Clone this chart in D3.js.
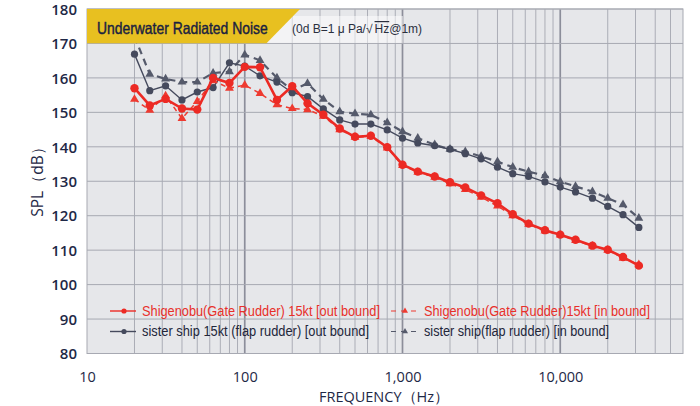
<!DOCTYPE html>
<html lang="en">
<head>
<meta charset="UTF-8">
<title>Underwater Radiated Noise</title>
<script src="https://cdn.jsdelivr.net/npm/d3@7/dist/d3.min.js"></script>
<style>
    * { margin: 0; padding: 0; }
    body { background: #fff; }
    svg { display: block; font-family: "Liberation Sans", Arial, sans-serif; }
    .tick text { font-family: "Open Sans", sans-serif; fill: #1e2846; }
    .narrow { font-family: "Liberation Sans Narrow", "Liberation Sans", Arial, sans-serif; }
</style>
</head>
<body>
<svg id="chart" width="700" height="406"></svg>
<script>
// 1/3 octave band centre frequencies (Hz)
var freqs = [20, 25, 31.5, 40, 50, 63, 80, 100, 125, 160, 200, 250, 315, 400, 500, 630, 800,
    1000, 1250, 1600, 2000, 2500, 3150, 4000, 5000, 6300, 8000, 10000, 12500, 16000, 20000, 25000, 31500];

// SPL (dB)
var gateOut = [157.0, 152.0, 153.9, 151.1, 150.8, 160.0, 158.5, 163.2, 163.1, 153.6, 157.6, 152.6, 149.3, 145.3, 142.9, 143.2, 139.9,
    134.8, 132.8, 131.4, 129.7, 128.2, 125.9, 123.6, 120.4, 117.7, 115.8, 114.5, 113.0, 111.3, 110.1, 108.0, 105.5];
var gateIn = [153.8, 150.6, 154.8, 148.2, 153.2, 159.2, 157.0, 157.9, 155.5, 152.2, 151.1, 150.8, 148.9, 145.0, 142.8, 143.0, 139.7,
    134.6, 132.6, 131.2, 129.3, 127.6, 125.4, 122.8, 120.0, 117.5, 115.6, 114.4, 112.8, 111.2, 110.0, 107.7, 105.8];
var sisterOut = [166.9, 156.3, 157.7, 153.6, 155.9, 157.2, 164.4, 163.4, 160.6, 158.8, 155.7, 154.6, 151.0, 147.8, 146.6, 146.6, 144.9,
    142.5, 141.1, 140.3, 139.3, 138.0, 136.5, 134.1, 132.2, 131.4, 129.8, 128.3, 126.9, 125.1, 122.7, 120.3, 116.6];
var sisterIn = [172.0, 161.1, 159.7, 158.8, 158.8, 161.4, 161.8, 166.7, 165.1, 160.0, 156.4, 158.4, 153.8, 150.2, 149.6, 149.3, 147.0,
    144.4, 142.5, 140.6, 139.3, 138.6, 137.2, 135.7, 134.1, 132.8, 131.6, 129.9, 128.5, 127.0, 125.1, 123.2, 119.3];

var xTicks = [10, 100, 1000, 10000];
var yTicks = [80, 90, 100, 110, 120, 130, 140, 150, 160, 170, 180];

var series = [
    { name: "Shigenobu(Gate Rudder) 15kt [out bound]", values: gateOut, color: "#ec2a24", width: 2.6, dash: null, marker: "circle", r: 4.2 },
    { name: "Shigenobu(Gate Rudder)15kt [in bound]", values: gateIn, color: "#ee3a30", width: 1.5, dash: "5,4", marker: "triangle", r: 3.6 },
    { name: "sister ship 15kt (flap rudder) [out bound]", values: sisterOut, color: "#454a5d", width: 1.4, dash: null, marker: "circle", r: 3.6 },
    { name: "sister ship(flap rudder) [in bound]", values: sisterIn, color: "#555a6b", width: 2.2, dash: "7,5", marker: "triangle", r: 3.6 }
];

var svg = d3.select("#chart");
// plot box (window.top is reserved, so no "top" here)
var pLeft = 87, pRight = 683, pTop = 9, pBottom = 353.5;

var x = d3.scaleLog().domain([10, 60000]).range([pLeft, pRight]);
var y = d3.scaleLinear().domain([80, 180]).range([pBottom, pTop]);

// plot background
svg.append("rect")
    .attr("x", pLeft).attr("y", pTop)
    .attr("width", pRight - pLeft).attr("height", pBottom - pTop)
    .attr("fill", "#e6e7ea");

// vertical grid: 1..9 in each decade
var gridX = [];
[10, 100, 1000, 10000].forEach(function (d) {
    for (var k = 1; k < 10; k++) {
        if (d * k > 10 && d * k < 60000) gridX.push(d * k);
    }
});
svg.append("g").selectAll("line")
    .data(gridX)
    .enter().append("line")
    .attr("x1", function (d) { return x(d); })
    .attr("x2", function (d) { return x(d); })
    .attr("y1", pTop).attr("y2", pBottom)
    .attr("stroke", function (d) { return xTicks.indexOf(d) >= 0 ? "#8c8e9a" : "#abadb6"; })
    .attr("stroke-width", function (d) { return xTicks.indexOf(d) >= 0 ? 1.7 : 1; });

svg.append("g").selectAll("line")
    .data(yTicks)
    .enter().append("line")
    .attr("x1", pLeft).attr("x2", pRight)
    .attr("y1", function (d) { return y(d); })
    .attr("y2", function (d) { return y(d); })
    .attr("stroke", "#a7a9b2").attr("stroke-width", 1);

// frame
svg.append("rect")
    .attr("x", pLeft).attr("y", pTop)
    .attr("width", pRight - pLeft).attr("height", pBottom - pTop)
    .attr("fill", "none").attr("stroke", "#a7a9b2");

// axes
var yAxis = svg.append("g")
    .attr("transform", "translate(" + (pLeft - 10) + ",0)")
    .call(d3.axisLeft(y).tickValues(yTicks).tickSize(0).tickPadding(0));
yAxis.select(".domain").remove();
yAxis.selectAll("text").attr("font-size", 15).attr("font-weight", 600).attr("dy", "0.35em");

var xAxis = svg.append("g")
    .attr("transform", "translate(0," + pBottom + ")")
    .call(d3.axisBottom(x).tickValues(xTicks).tickFormat(d3.format(",")).tickSize(0).tickPadding(18));
xAxis.select(".domain").remove();
xAxis.selectAll("text").attr("font-size", 14.5);

svg.append("text")
    .attr("x", 384).attr("y", 402)
    .attr("text-anchor", "middle")
    .attr("font-family", "'Open Sans', sans-serif")
    .attr("font-size", 14.5).attr("fill", "#1e2846")
    .text("FREQUENCY（Hz）");

svg.append("text")
    .attr("transform", "translate(43,178) rotate(-90)")
    .attr("text-anchor", "middle")
    .attr("font-family", "'Open Sans', sans-serif")
    .attr("font-size", 15.5).attr("fill", "#1e2846")
    .text("SPL（dB）");

// series lines and markers
var line = d3.line()
    .x(function (d) { return x(d[0]); })
    .y(function (d) { return y(d[1]); });

var drawOrder = [3, 2, 1, 0];
drawOrder.forEach(function (i) {
    var s = series[i];
    var pts = freqs.map(function (f, j) { return [f, s.values[j]]; });
    var g = svg.append("g");
    g.append("path")
        .datum(pts)
        .attr("d", line)
        .attr("fill", "none")
        .attr("stroke", s.color)
        .attr("stroke-width", s.width)
        .attr("stroke-dasharray", s.dash);
    if (s.marker === "circle") {
        g.selectAll("circle").data(pts).enter().append("circle")
            .attr("cx", function (d) { return x(d[0]); })
            .attr("cy", function (d) { return y(d[1]); })
            .attr("r", s.r)
            .attr("fill", s.color);
    } else {
        g.selectAll("path.m").data(pts).enter().append("path")
            .attr("class", "m")
            .attr("transform", function (d) { return "translate(" + x(d[0]) + "," + y(d[1]) + ")"; })
            .attr("d", d3.symbol().type(d3.symbolTriangle).size(34))
            .attr("fill", s.color);
    }
});

// title banner
svg.append("rect")
    .attr("x", 266).attr("y", 16)
    .attr("width", 137).attr("height", 27)
    .attr("fill", "#fff").attr("opacity", 0.5);
svg.append("path")
    .attr("d", "M" + pLeft + "," + pTop + " L300," + pTop + " L266.5,43.3 L" + pLeft + ",43.3 Z")
    .attr("fill", "#e8c020");
// condensed look: small font stretched vertically
svg.append("text")
    .attr("transform", "translate(97,33.5) scale(1,1.2)")
    .attr("font-size", 13.9).attr("fill", "#1a2240")
    .attr("stroke", "#1a2240").attr("stroke-width", 0.35)
    .text("Underwater Radiated Noise");
var sub = svg.append("text")
    .attr("x", 292).attr("y", 33)
    .attr("font-size", 12).attr("fill", "#2a2f3e");
sub.append("tspan").text("(0d B=1 μ Pa/√");
sub.append("tspan").attr("dx", 2).style("text-decoration", "overline").text("Hz");
sub.append("tspan").text("@1m)");

// legend
var legendPos = [[110, 311, 142, 238], [391, 311, 424, 226], [110, 331.5, 142, 227], [391, 331.5, 424, 185]];
series.forEach(function (s, i) {
    var p = legendPos[i];
    var g = svg.append("g");
    g.append("line")
        .attr("x1", p[0]).attr("x2", p[0] + 26)
        .attr("y1", p[1]).attr("y2", p[1])
        .attr("stroke", s.color)
        .attr("stroke-width", s.dash ? 1.2 : 1.4)
        .attr("stroke-dasharray", s.dash ? "5,5" : null);
    if (s.marker === "circle") {
        g.append("circle").attr("cx", p[0] + 14).attr("cy", p[1]).attr("r", 2.6).attr("fill", s.color);
    } else {
        g.append("path")
            .attr("transform", "translate(" + (p[0] + 14) + "," + p[1] + ")")
            .attr("d", d3.symbol().type(d3.symbolTriangle).size(16))
            .attr("fill", s.color);
    }
    g.append("text")
        .attr("class", "narrow")
        .attr("x", p[2]).attr("y", p[1] + 4.5)
        .attr("font-size", 14)
        .attr("fill", i < 2 ? "#e8302a" : "#22263a")
        .attr("textLength", p[3]).attr("lengthAdjust", "spacingAndGlyphs")
        .text(s.name);
});
</script>
</body>
</html>
